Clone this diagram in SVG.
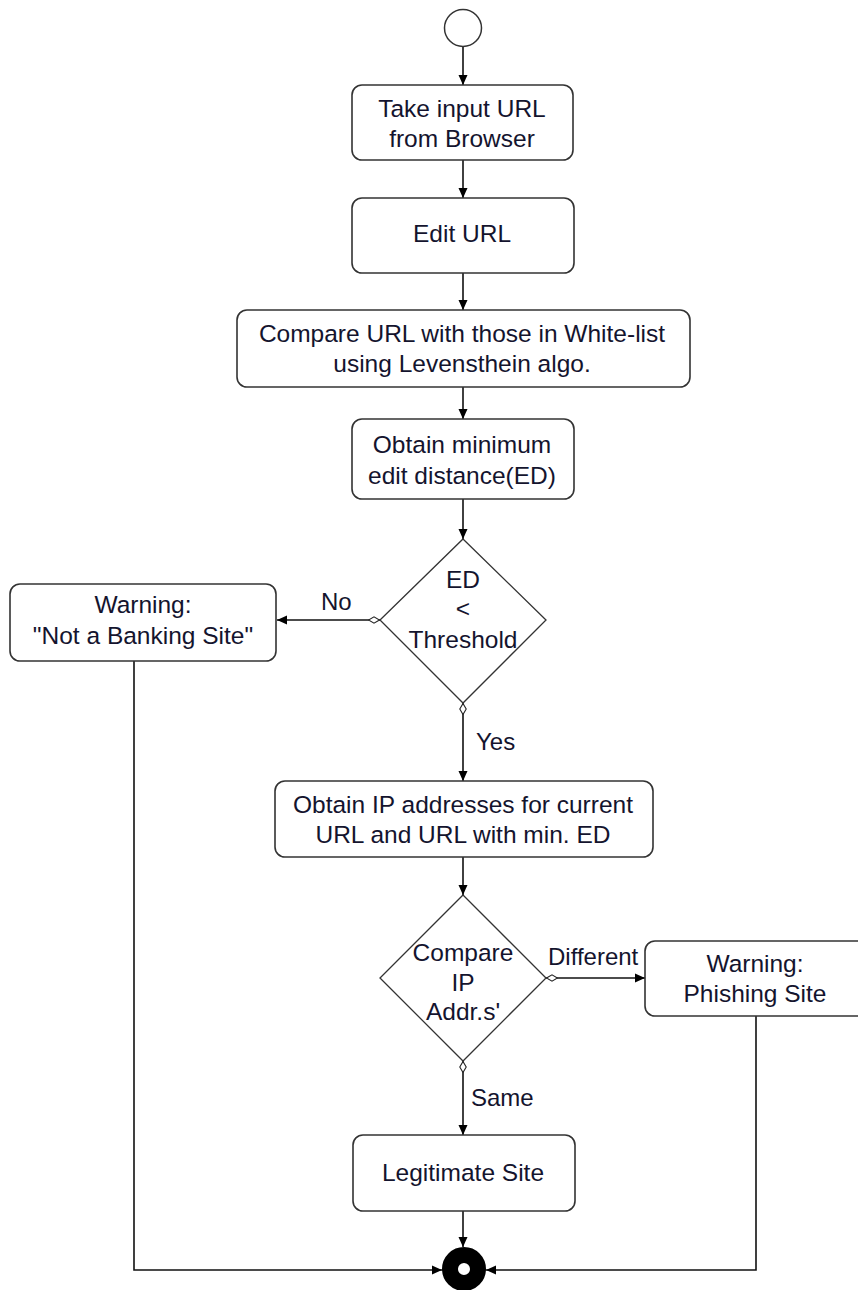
<svg xmlns="http://www.w3.org/2000/svg" width="858" height="1290" viewBox="0 0 858 1290">
<defs>
<style>
.box{fill:#fff;stroke:#333;stroke-width:1.6}
.dia{fill:#fff;stroke:#333;stroke-width:1.3}
.t{font-family:"Liberation Sans",Arial,sans-serif;font-size:24.5px;fill:#14142e;text-anchor:middle}
.lbl{font-family:"Liberation Sans",Arial,sans-serif;font-size:24px;fill:#14142e}
.c{fill:none;stroke:#111;stroke-width:1.6}
</style>
<marker id="arr" viewBox="0 0 10 10" refX="10" refY="5" markerWidth="10" markerHeight="10" markerUnits="userSpaceOnUse" orient="auto">
<path d="M0,0.5 L10,5 L0,9.5 Z" fill="#000"/>
</marker>
<marker id="dmd" viewBox="0 0 12 8" refX="0" refY="4" markerWidth="12" markerHeight="8" markerUnits="userSpaceOnUse" orient="auto">
<path d="M0.5,4 L6,0.8 L11.5,4 L6,7.2 Z" fill="#fff" stroke="#222" stroke-width="1.1"/>
</marker>
</defs>
<rect width="858" height="1290" fill="#fff"/>

<g id="connectors">
<line class="c" x1="463" y1="47" x2="463" y2="85" marker-end="url(#arr)"/>
<line class="c" x1="463" y1="160" x2="463" y2="198" marker-end="url(#arr)"/>
<line class="c" x1="463" y1="273" x2="463" y2="310" marker-end="url(#arr)"/>
<line class="c" x1="463" y1="387" x2="463" y2="419" marker-end="url(#arr)"/>
<line class="c" x1="463" y1="499" x2="463" y2="539" marker-end="url(#arr)"/>
<line class="c" x1="380" y1="620" x2="277" y2="620" marker-start="url(#dmd)" marker-end="url(#arr)"/>
<line class="c" x1="463" y1="703" x2="463" y2="781" marker-start="url(#dmd)" marker-end="url(#arr)"/>
<line class="c" x1="463" y1="857" x2="463" y2="895" marker-end="url(#arr)"/>
<line class="c" x1="546" y1="978" x2="645" y2="978" marker-start="url(#dmd)" marker-end="url(#arr)"/>
<line class="c" x1="463" y1="1061" x2="463" y2="1135" marker-start="url(#dmd)" marker-end="url(#arr)"/>
<line class="c" x1="463" y1="1211" x2="463" y2="1247" marker-end="url(#arr)"/>
<polyline class="c" points="134,661 134,1270 442,1270" marker-end="url(#arr)"/>
<polyline class="c" points="756,1016 756,1270 486,1270" marker-end="url(#arr)"/>
</g>

<g id="start"><circle cx="463" cy="28" r="18.5" fill="#fff" stroke="#333" stroke-width="1.5"/></g>

<g id="n1"><rect class="box" x="352" y="85" width="221" height="75" rx="10"/>
<text class="t" x="462" y="117">Take input URL</text><text class="t" x="462" y="147">from Browser</text></g>

<g id="n2"><rect class="box" x="352" y="198" width="222" height="75" rx="10"/>
<text class="t" x="462" y="242">Edit URL</text></g>

<g id="n3"><rect class="box" x="237" y="310" width="453" height="77" rx="10"/>
<text class="t" x="462" y="342">Compare URL with those in White-list</text><text class="t" x="462" y="372">using Levensthein algo.</text></g>

<g id="n4"><rect class="box" x="352" y="419" width="222" height="80" rx="10"/>
<text class="t" x="462" y="453">Obtain minimum</text><text class="t" x="462" y="484">edit distance(ED)</text></g>

<g id="d1"><polygon class="dia" points="463,539 546,620 463,703 380,620"/>
<text class="t" x="463" y="588">ED</text><text class="t" x="463" y="617">&lt;</text><text class="t" x="463" y="648">Threshold</text></g>

<g id="n5"><rect class="box" x="10" y="584" width="266" height="77" rx="10"/>
<text class="t" x="143" y="613">Warning:</text><text class="t" x="143" y="644">"Not a Banking Site"</text></g>

<g id="n6"><rect class="box" x="275" y="781" width="378" height="76" rx="10"/>
<text class="t" x="463" y="813">Obtain IP addresses for current</text><text class="t" x="463" y="843">URL and URL with min. ED</text></g>

<g id="d2"><polygon class="dia" points="463,895 546,978 463,1061 380,978"/>
<text class="t" x="463" y="961">Compare</text><text class="t" x="463" y="991">IP</text><text class="t" x="463" y="1020">Addr.s'</text></g>

<g id="n7"><rect class="box" x="645" y="941" width="222" height="75" rx="10"/>
<text class="t" x="755" y="972">Warning:</text><text class="t" x="755" y="1002">Phishing Site</text></g>

<g id="n8"><rect class="box" x="353" y="1135" width="222" height="76" rx="10"/>
<text class="t" x="463" y="1181">Legitimate Site</text></g>

<g id="end"><circle cx="464" cy="1269" r="14" fill="#fff" stroke="#000" stroke-width="16"/></g>

<g id="labels">
<text class="lbl" x="321" y="610">No</text>
<text class="lbl" x="476" y="750">Yes</text>
<text class="lbl" x="548" y="965">Different</text>
<text class="lbl" x="471" y="1106">Same</text>
</g>
</svg>
